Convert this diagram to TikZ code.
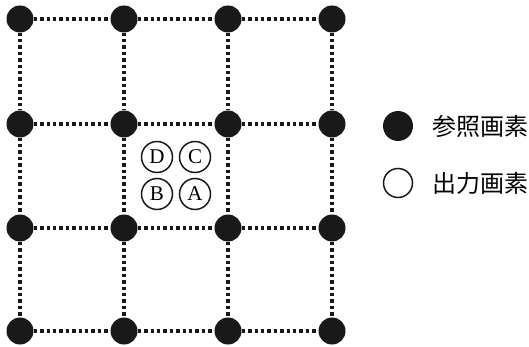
\documentclass[tikz,border=0pt]{standalone}
\usepackage{fontspec}
\setmainfont{Liberation Serif}
\newfontfamily\cjk{Noto Sans CJK JP}
\begin{document}
\begin{tikzpicture}[x=1pt,y=-1pt,
  refpt/.style={circle,fill=black!90,minimum size=27pt,inner sep=0pt},
  outpt/.style={circle,draw=black!90,line width=1.5pt,minimum size=31pt,inner sep=0pt,font=\fontsize{21}{21}\selectfont},
  gridline/.style={line width=3.4pt,dash pattern=on 3.4pt off 3pt,black!90},
  legtext/.style={anchor=west,inner sep=0pt,font=\cjk\fontsize{24}{24}\selectfont}]
\useasboundingbox (0,0) rectangle (529,347);
\foreach \i/\x in {0/20,1/124,2/228,3/332}{
  \foreach \j/\y in {0/19,1/124,2/228,3/331}{
    \node[refpt] (p\i\j) at (\x,\y) {};
  }
}
\foreach \j in {0,1,2,3}{
  \draw[gridline] (p0\j) -- (p1\j);
  \draw[gridline] (p1\j) -- (p2\j);
  \draw[gridline] (p2\j) -- (p3\j);
  \draw[gridline] (p\j0) -- (p\j1);
  \draw[gridline] (p\j1) -- (p\j2);
  \draw[gridline] (p\j2) -- (p\j3);
}
\node[outpt] (D) at (157,157) {D};
\node[outpt] (C) at (195,157) {C};
\node[outpt] (B) at (157,194) {B};
\node[outpt] (A) at (195,194) {A};
\node[refpt,minimum size=30pt] (lr) at (398,126) {};
\node[outpt,minimum size=29pt] (lo) at (398,183) {};
\node[legtext] (t1) at (432,126) {参照画素};
\node[legtext] (t2) at (432,183) {出力画素};
\end{tikzpicture}
\end{document}
